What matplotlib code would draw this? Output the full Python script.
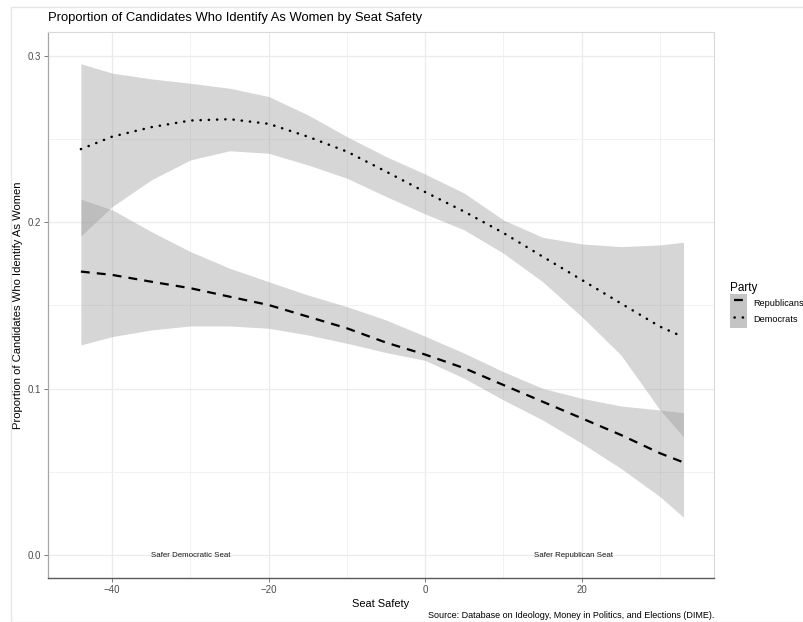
import matplotlib
matplotlib.use("Agg")
import matplotlib.pyplot as plt
from matplotlib.lines import Line2D
from matplotlib.patches import Patch, Rectangle
from matplotlib.ticker import MultipleLocator

plt.rcParams['font.family'] = ['Liberation Sans', 'DejaVu Sans']

# seat safety values the curves were read at
seat = [-44, -40, -35, -30, -25, -20, -15, -10, -5, 0, 5, 10, 15, 20, 25, 30, 33]

# Republicans (dashed) fit and 95% band
rep_fit = [0.1704, 0.1684, 0.1643, 0.1604, 0.1553, 0.1503, 0.1433, 0.1363, 0.1277,
           0.1205, 0.1123, 0.1022, 0.0922, 0.0822, 0.0722, 0.0612, 0.0557]
rep_hi = [0.2139, 0.2075, 0.1944, 0.1824, 0.1724, 0.1643, 0.1563, 0.1493, 0.1413,
          0.1315, 0.1213, 0.1102, 0.1002, 0.0942, 0.0896, 0.0872, 0.0856]
rep_lo = [0.1263, 0.1313, 0.1353, 0.1377, 0.1377, 0.1363, 0.1323, 0.1273, 0.1217,
          0.1170, 0.1062, 0.0932, 0.0812, 0.0672, 0.0521, 0.0351, 0.0227]

# Democrats (dotted) fit and 95% band
dem_fit = [0.2440, 0.2515, 0.2572, 0.2612, 0.2620, 0.2592, 0.2515, 0.2425, 0.2305,
           0.2182, 0.2064, 0.1936, 0.1794, 0.1654, 0.1513, 0.1373, 0.1310]
dem_hi = [0.2953, 0.2897, 0.2862, 0.2836, 0.2806, 0.2756, 0.2646, 0.2515, 0.2395,
          0.2290, 0.2175, 0.2014, 0.1910, 0.1870, 0.1854, 0.1864, 0.1880]
dem_lo = [0.1918, 0.2094, 0.2255, 0.2375, 0.2430, 0.2415, 0.2345, 0.2265, 0.2155,
          0.2050, 0.1954, 0.1814, 0.1643, 0.1433, 0.1203, 0.0872, 0.0710]

annot_x = [-30, 19]
annot_text = ['Safer Democratic Seat', 'Safer Republican Seat']

#-----------------------------------------

W, H = 804, 622
fig = plt.figure(figsize=(W / 100, H / 100), dpi=100)
ax = fig.add_axes([48 / W, 1 - 578 / H, (714 - 48) / W, (578 - 32) / H])

band_col = '#999999'
rep_dash = (4, 3.2)
dem_dots = (0.1, 3.2)
ax.fill_between(seat, rep_lo, rep_hi, color=band_col, alpha=0.4, lw=0)
ax.fill_between(seat, dem_lo, dem_hi, color=band_col, alpha=0.4, lw=0)
ax.plot(seat, rep_fit, color='black', lw=1.6, dashes=rep_dash)
ax.plot(seat, dem_fit, color='black', lw=1.8, dashes=dem_dots, dash_capstyle='round')

for x, t in zip(annot_x, annot_text):
    ax.text(x, 0, t, ha='center', va='center', fontsize=5.7, color='#1a1a1a')

ax.set_xlim(-48.2, 36.9)
ax.set_ylim(-0.0138, 0.3144)
ax.xaxis.set_major_locator(MultipleLocator(20))
ax.xaxis.set_minor_locator(MultipleLocator(10))
ax.yaxis.set_major_locator(MultipleLocator(0.1))
ax.yaxis.set_minor_locator(MultipleLocator(0.05))
ax.yaxis.set_major_formatter(matplotlib.ticker.FormatStrFormatter('%.1f'))
ax.xaxis.set_major_formatter(matplotlib.ticker.FuncFormatter(lambda v, p: f"{int(v)}".replace('-', '\u2212')))

ax.grid(which='major', color='#ebebeb', lw=0.9)
ax.grid(which='minor', color='#f0f0f0', lw=0.6)
ax.set_axisbelow(True)
ax.tick_params(which='major', length=3, width=0.6, color='#666666', labelcolor='#4d4d4d', labelsize=7, pad=2)
ax.tick_params(which='minor', length=0)

for side in ['top', 'right']:
    ax.spines[side].set_color('#d9d9d9')
    ax.spines[side].set_linewidth(0.8)
ax.spines['left'].set_color('#a6a6a6')
ax.spines['left'].set_linewidth(0.9)
ax.spines['bottom'].set_color('#595959')
ax.spines['bottom'].set_linewidth(1.0)

ax.set_xlabel('Seat Safety', fontsize=7.9, labelpad=3)
ax.set_ylabel('Proportion of Candidates Who Identify As Women', fontsize=8.1)
ax.yaxis.label.set_va('center')
ax.yaxis.set_label_coords((18 - 48) / (714 - 48), 0.5)
fig.text(48 / W, 1 - 18 / H, 'Proportion of Candidates Who Identify As Women by Seat Safety',
         ha='left', va='center', fontsize=9.4)
fig.text(714 / W, 1 - 615 / H, 'Source: Database on Ideology, Money in Politics, and Elections (DIME).',
         ha='right', va='center', fontsize=6.5)

# legend: grey key box with the line style on top (offsets centre the marks in the box)
key_rep = (Patch(facecolor='#c4c4c4', edgecolor='none'),
           Line2D([], [], color='black', lw=1.6, linestyle=(5.4, rep_dash)))
key_dem = (Patch(facecolor='#c4c4c4', edgecolor='none'),
           Line2D([], [], color='black', lw=1.8, linestyle=(1.7, dem_dots), dash_capstyle='round'))
leg = fig.legend([key_rep, key_dem], ['Republicans', 'Democrats'], title='Party',
                 loc='upper left', bbox_to_anchor=(724 / W, 1 - 276 / H),
                 frameon=False, fontsize=6.6, title_fontsize=8.5,
                 handlelength=1.85, handleheight=2.45, handletextpad=0.6,
                 labelspacing=0.0, borderpad=0.2)
leg._legend_box.align = 'left'

# faint screenshot border
fig.add_artist(Rectangle((11 / W, 0), 1, 1 - 7 / H, transform=fig.transFigure,
                         fill=False, edgecolor='#e6e6e6', lw=1.0))

fig.savefig('out.png', dpi=100)
